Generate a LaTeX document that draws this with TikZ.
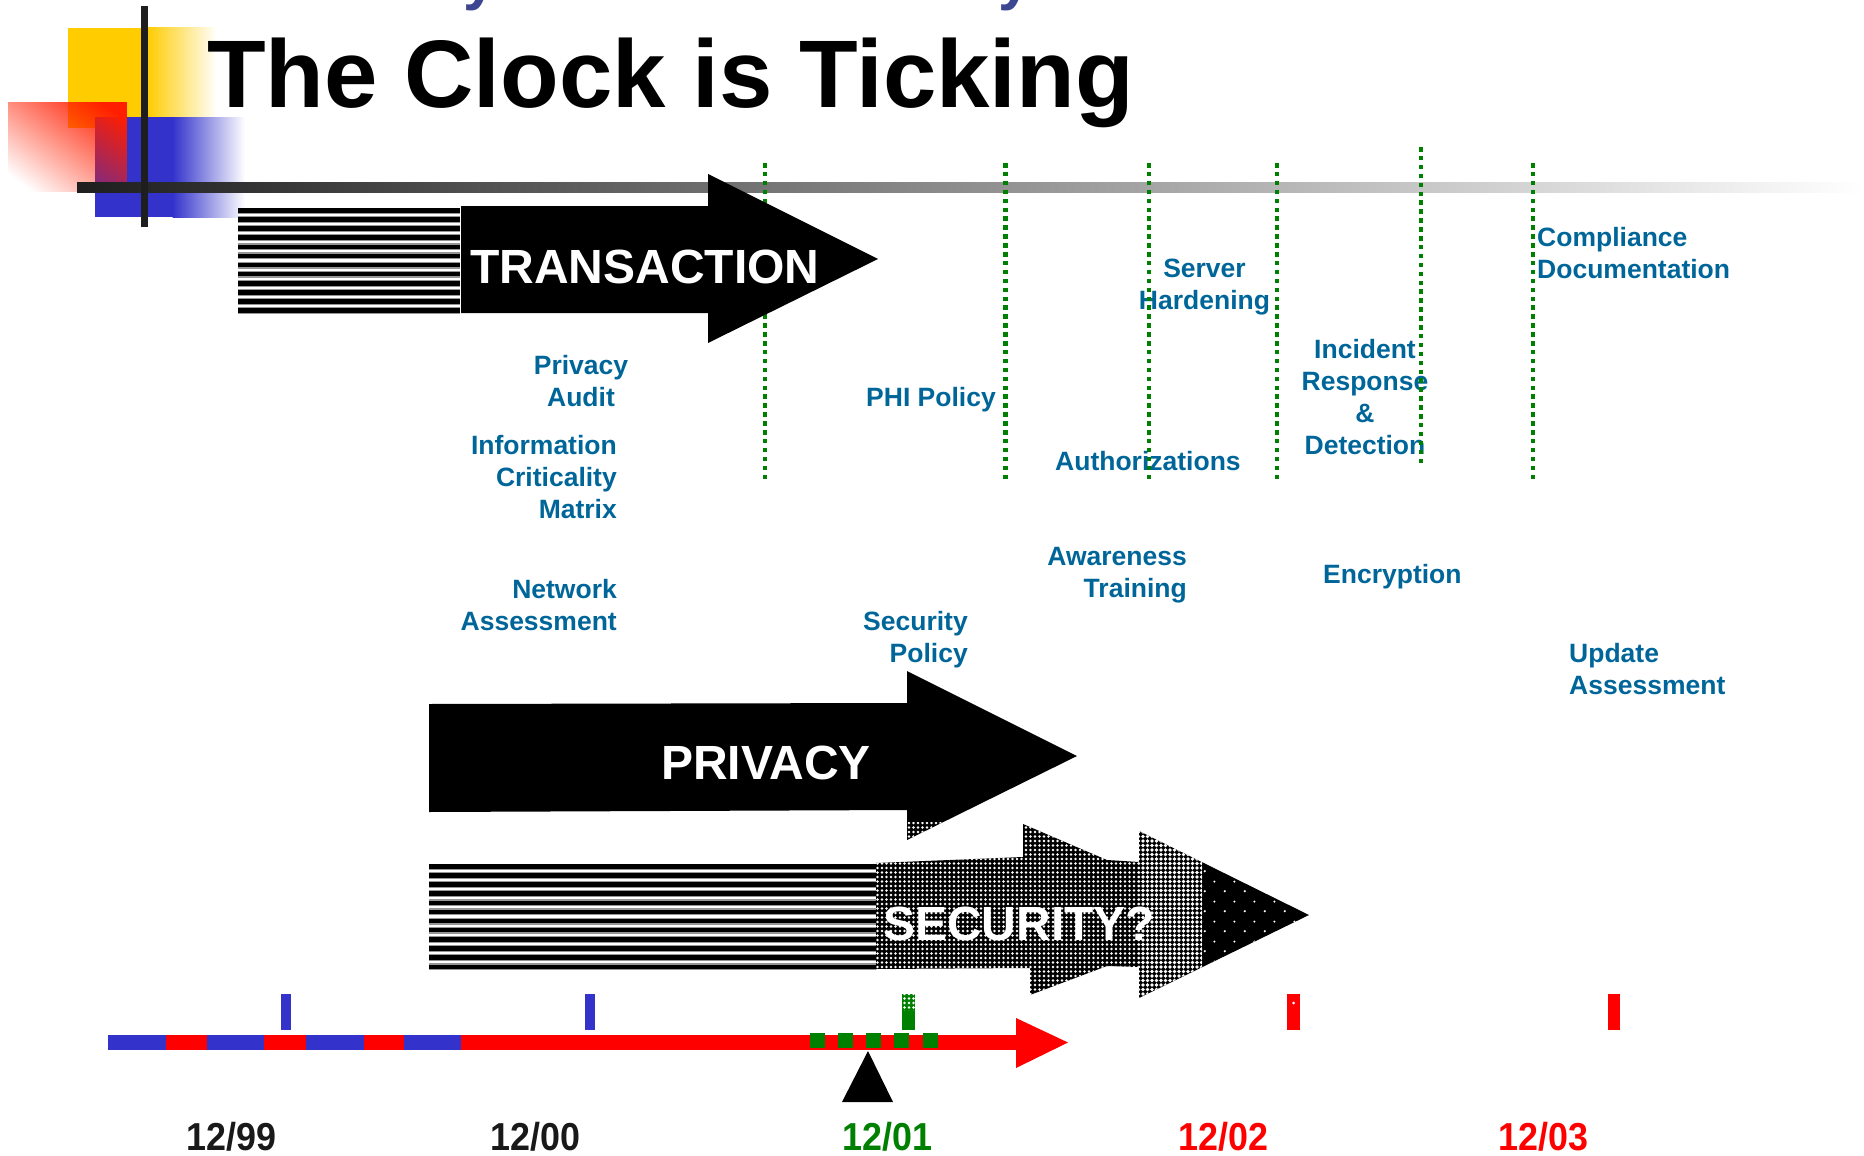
\documentclass[tikz,border=0pt]{standalone}
\usepackage{fontspec}
\setmainfont{Liberation Sans}
\newfontfamily\datefont[FakeStretch=0.92]{Liberation Sans}
\usetikzlibrary{patterns.meta,fadings}

\definecolor{lblblue}{RGB}{0,102,153}
\definecolor{dotgreen}{RGB}{0,128,0}
\definecolor{decoyellow}{RGB}{255,204,0}
\definecolor{decoblue}{RGB}{51,51,204}
\definecolor{decored}{RGB}{255,30,0}
\definecolor{barred}{RGB}{255,0,0}
\definecolor{upperblue}{RGB}{60,70,145}
\definecolor{bardark}{RGB}{30,30,30}
\definecolor{barmid}{RGB}{176,176,176}
\definecolor{stripegray}{RGB}{150,150,150}

% halftone screens
\tikzdeclarepattern{name=halftone, type=uncolored,
  bounding box={(-2.25pt,-2.25pt) and (2.25pt,2.25pt)},
  tile size={(4.5pt,4.5pt)},
  code={\fill (0pt,0pt) circle [radius=1.45pt];}}
\tikzdeclarepattern{name=halftonelight, type=uncolored,
  bounding box={(-2.25pt,-2.25pt) and (2.25pt,2.25pt)},
  tile size={(4.5pt,4.5pt)},
  code={\fill (0pt,0pt) circle [radius=1.8pt];}}
\tikzdeclarepattern{name=sparsedots, type=uncolored,
  bounding box={(0pt,0pt) and (20pt,20pt)},
  tile size={(20pt,20pt)},
  code={\fill (5pt,5pt) circle [radius=1.2pt]; \fill (15pt,15pt) circle [radius=1.2pt];}}

% red square of the corner ornament: opaque top right, clear bottom left
\begin{tikzfadingfrompicture}[name=pinkfade]
  \shade[top color=transparent!0, bottom color=transparent!100, shading angle=-45] (0,0) rectangle (2,2);
\end{tikzfadingfrompicture}

\tikzset{
  lbl/.style={font=\fontsize{26.5}{32}\selectfont\bfseries, text=lblblue, inner sep=0pt},
  banner/.style={font=\fontsize{48}{50}\selectfont\bfseries, text=white, inner sep=0pt, anchor=base west},
  datelbl/.style={font=\datefont\fontsize{39}{40}\selectfont\bfseries, inner sep=0pt, anchor=base west},
  milestone/.style={dotgreen, line width=4.5pt, dash pattern=on 4.5pt off 4.4pt},
  halo/.style={stripegray, line width=7pt},
  stripeline/.style={black, line width=4.5pt},
  arrowbody/.style={fill=black},
}

\begin{document}
\begin{tikzpicture}[x=1pt,y=-1pt]
\useasboundingbox (0,0) rectangle (1864,1156);

% descenders of the heading above
\node[font=\fontsize{60}{60}\selectfont\bfseries, text=upperblue, inner sep=0pt, anchor=base west] (tailA) at (463,-1) {y};
\node[font=\fontsize{60}{60}\selectfont\bfseries, text=upperblue, inner sep=0pt, anchor=base west] (tailB) at (998,-1) {y};

% corner ornament
\fill[decoyellow] (68,28) rectangle (147.5,128);
\shade[left color=decoyellow, right color=white] (147,28) rectangle (217,117);
\fill[decoblue] (95,117) rectangle (173,217);
\shade[left color=decoblue, right color=white] (172.5,117) rectangle (245,217);
\fill[decored, path fading=pinkfade] (8,102) rectangle (127,192);
\shade[left color=bardark, middle color=barmid, right color=white] (77,182) rectangle (1864,192);
\fill[bardark] (141,6) rectangle (148,227);

% title
\node[font=\fontsize{96}{100}\selectfont\bfseries, inner sep=0pt, anchor=base west] (title) at (207,107) {The Clock is Ticking};

% task labels
\node[lbl, align=center, anchor=north] (privaudit) at (581,355) {Privacy\\Audit};
\node[lbl, align=right, anchor=north east] (infomatrix) at (617,435) {Information\\Criticality\\Matrix};
\node[lbl, align=right, anchor=north east] (netassess) at (617,579) {Network\\Assessment};
\node[lbl, anchor=base west] (phipolicy) at (866,406) {PHI Policy};
\node[lbl, align=right, anchor=north east] (secpolicy) at (968,611) {Security\\Policy};
\node[lbl, align=center, anchor=north] (hardening) at (1204.5,259) {Server\\Hardening};
\node[lbl, anchor=base west] (authz) at (1055,470) {Authorizations};
\node[lbl, align=center, anchor=north] (incident) at (1365,339) {Incident\\Response\\\&\\Detection};
\node[lbl, align=left, anchor=north west] (compliance) at (1537,227) {Compliance\\Documentation};
\node[lbl, align=right, anchor=north east] (awareness) at (1187,547) {Awareness\\Training};
\node[lbl, anchor=base west] (encryption) at (1323,583) {Encryption};
\node[lbl, align=left, anchor=north west] (update) at (1569,643) {Update\\Assessment};

% milestone markers
\foreach \mx/\mtop/\mbot in {765/163/480, 1005.5/163/480, 1149/163/480, 1277/163/480, 1421/147/463, 1533/163/480}
  \draw[milestone] (\mx,\mtop) -- (\mx,\mbot);

% TRANSACTION arrow
\fill[white] (238,208) rectangle (460,313);
\begin{scope}
  \clip (238,208) rectangle (460,313);
  \foreach \k in {0,...,11} {
    \draw[halo] (238,{210.25+9.136*\k}) -- (460,{210.25+9.136*\k});
    \draw[stripeline] (238,{210.25+9.136*\k}) -- (460,{210.25+9.136*\k});
  }
\end{scope}
\path[arrowbody] (461,206) -- (708,206) -- (708,174) -- (878,259) -- (708,343) -- (708,313) -- (461,313) -- cycle;
\node[banner] (transaction) at (470,283) {TRANSACTION};

% PRIVACY arrow
\path[arrowbody] (429,704) -- (907,703) -- (907,671) -- (1077,756) -- (907,840) -- (907,810) -- (429,812) -- cycle;
\fill[pattern=halftone, pattern color=white] (907,822) -- (943,822) -- (907,840) -- cycle;
\node[banner] (privacy) at (661,779) {PRIVACY};

% SECURITY? arrow
\begin{scope}
  \clip (429,864) rectangle (876,969);
  \foreach \k in {0,...,11} {
    \draw[halo] (429,{866.25+9.136*\k}) -- (876,{866.25+9.136*\k});
    \draw[stripeline] (429,{866.25+9.136*\k}) -- (876,{866.25+9.136*\k});
  }
\end{scope}
\path[arrowbody] (876,863) -- (1023,857) -- (1023,824) -- (1107,860) -- (1139,862) -- (1139,967) -- (1107,966) -- (1030,995) -- (1030,968) -- (876,969) -- cycle;
\fill[pattern=halftone, pattern color=white] (876,863) -- (1023,857) -- (1023,824) -- (1107,860) -- (1139,862) -- (1139,967) -- (1107,966) -- (1030,995) -- (1030,968) -- (876,969) -- cycle;
\path[arrowbody] (1139,831) -- (1309,915) -- (1139,998) -- cycle;
\fill[pattern=halftonelight, pattern color=white] (1139,831) -- (1202,862) -- (1202,967) -- (1139,998) -- cycle;
\fill[pattern=sparsedots, pattern color=white] (1202,862) -- (1309,915) -- (1202,967) -- cycle;
\node[banner] (security) at (883,940) {SECURITY?};

% time line
\fill[barred] (108,1035) rectangle (1020,1050);
\foreach \a/\b in {108/166, 207/264, 306/364, 404/461}
  \fill[decoblue] (\a,1035) rectangle (\b,1050);
\fill[barred] (1016,1018) -- (1068,1042.5) -- (1016,1068) -- cycle;
\foreach \a in {810, 838, 866, 894, 923}
  \fill[dotgreen] (\a,1033) rectangle (\a+15,1048);
\fill[decoblue] (281,994) rectangle (291,1030);
\fill[decoblue] (585,994) rectangle (595,1030);
\fill[dotgreen] (902,994) rectangle (915,1030);
\fill[pattern=halftone, pattern color=white] (902,994) rectangle (915,1010);
\fill[barred] (1287,994) rectangle (1300,1030);
\fill[white] (1293.5,1003) circle [radius=1.5];
\fill[barred] (1608,994) rectangle (1620,1030);
\fill[black] (868,1051) -- (893,1102) -- (842,1102) -- cycle;

% year marks
\node[datelbl, text=black!90] (y99) at (186,1150) {12/99};
\node[datelbl, text=black!90] (y00) at (490,1150) {12/00};
\node[datelbl, text=dotgreen] (y01) at (842,1150) {12/01};
\node[datelbl, text=barred] (y02) at (1178,1150) {12/02};
\node[datelbl, text=barred] (y03) at (1498,1150) {12/03};
\end{tikzpicture}
\end{document}
